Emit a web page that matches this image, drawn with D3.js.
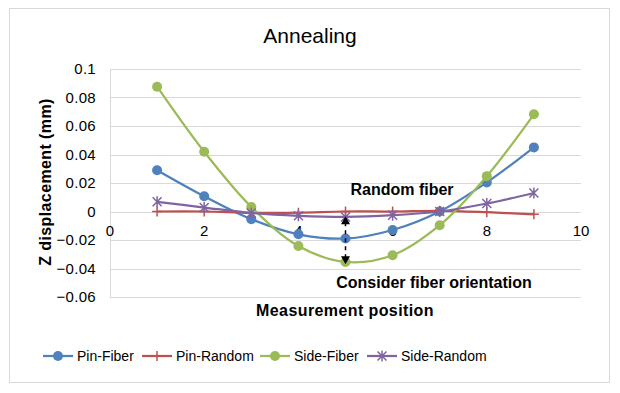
<!DOCTYPE html>
<html>
<head>
<meta charset="utf-8">
<script src="https://d3js.org/d3.v7.min.js"></script>
<style>
  body { margin: 0; background: #fff; }
  svg text { font-family: "Liberation Sans", Arial, sans-serif; fill: #000; }
</style>
</head>
<body>
<svg></svg>
<script>
  const width = 620;
  const height = 393;

  // data
  const positions = [1, 2, 3, 4, 5, 6, 7, 8, 9];
  const pinFiber = [0.029, 0.0107, -0.0054, -0.016, -0.019, -0.013, 0.0, 0.0204, 0.045];
  const pinRandom = [0.0, 0.0, -0.001, -0.0008, 0.0, 0.0, 0.0005, -0.0005, -0.002];
  const sideFiber = [0.0876, 0.0419, 0.0032, -0.0242, -0.0354, -0.0307, -0.0096, 0.0248, 0.0682];
  const sideRandom = [0.0068, 0.0028, -0.001, -0.003, -0.0038, -0.0026, 0.0, 0.0056, 0.013];
  const seriesNames = ['Pin-Fiber', 'Pin-Random', 'Side-Fiber', 'Side-Random'];
  const xTicks = [0, 2, 4, 6, 8, 10];
  const yTicks = [-0.06, -0.04, -0.02, 0, 0.02, 0.04, 0.06, 0.08, 0.1];

  const series = [
    { name: seriesNames[0], values: pinFiber, color: '#4f81bd', marker: 'circle' },
    { name: seriesNames[1], values: pinRandom, color: '#c0504d', marker: 'plus' },
    { name: seriesNames[2], values: sideFiber, color: '#9bbb59', marker: 'circle' },
    { name: seriesNames[3], values: sideRandom, color: '#8064a2', marker: 'star' }
  ];

  const svg = d3.select('svg').attr('width', width).attr('height', height);

  // chart frame
  svg.append('rect')
    .attr('x', 9.5).attr('y', 8.5).attr('width', 600).attr('height', 374)
    .attr('fill', '#fff').attr('stroke', '#d9d9d9');

  const x = d3.scaleLinear().domain([0, 10]).range([110, 581]);
  const y = d3.scaleLinear().domain([-0.06, 0.1]).range([297, 69]);

  // gridlines
  svg.append('g').selectAll('line')
    .data(yTicks)
    .enter().append('line')
    .attr('x1', x(0)).attr('x2', x(10))
    .attr('y1', d => Math.round(y(d)) + 0.5).attr('y2', d => Math.round(y(d)) + 0.5)
    .attr('stroke', '#d9d9d9').attr('stroke-width', 1);

  svg.append('line')
    .attr('x1', x(0) + 0.5).attr('x2', x(0) + 0.5)
    .attr('y1', y(0.1)).attr('y2', y(-0.06))
    .attr('stroke', '#d9d9d9');

  // y tick labels
  svg.append('g').selectAll('text')
    .data(yTicks)
    .enter().append('text')
    .attr('x', 96).attr('y', d => y(d) + 5)
    .attr('text-anchor', 'end')
    .style('font-size', '15px')
    .style('letter-spacing', '0.3px')
    .text(d => d === 0 ? '0' : d3.format('')(+d.toFixed(2)));

  // x tick labels sit on the zero line
  svg.append('g').selectAll('text')
    .data(xTicks)
    .enter().append('text')
    .attr('x', d => x(d)).attr('y', y(0) + 24)
    .attr('text-anchor', 'middle')
    .style('font-size', '15px')
    .text(d => d);

  // title and axis titles
  svg.append('text')
    .attr('x', 310).attr('y', 43)
    .attr('text-anchor', 'middle')
    .style('font-size', '21px')
    .text('Annealing');

  svg.append('text')
    .attr('x', 345).attr('y', 316)
    .attr('text-anchor', 'middle')
    .style('font-size', '16px').style('font-weight', 'bold')
    .style('letter-spacing', '0.4px')
    .text('Measurement position');

  svg.append('text')
    .attr('transform', 'translate(51,182) rotate(-90)')
    .attr('text-anchor', 'middle')
    .style('font-size', '16px').style('font-weight', 'bold')
    .style('letter-spacing', '0.4px')
    .text('Z displacement (mm)');

  // series lines (smoothed like the original)
  const line = d3.line()
    .x((d, i) => x(positions[i]))
    .y(d => y(d))
    .curve(d3.curveCatmullRom.alpha(0.5));

  function drawMarker(g, type, color, cx, cy) {
    if (type === 'circle') {
      g.append('circle').attr('cx', cx).attr('cy', cy).attr('r', 5).attr('fill', color);
    } else if (type === 'plus') {
      g.append('path')
        .attr('d', `M${cx - 5},${cy}H${cx + 5}M${cx},${cy - 5}V${cy + 5}`)
        .attr('stroke', color).attr('stroke-width', 1.5).attr('fill', 'none');
    } else {
      g.append('path')
        .attr('d', `M${cx - 4.5},${cy - 4.5}L${cx + 4.5},${cy + 4.5}M${cx - 4.5},${cy + 4.5}L${cx + 4.5},${cy - 4.5}M${cx},${cy - 5.5}V${cy + 5.5}`)
        .attr('stroke', color).attr('stroke-width', 1.5).attr('fill', 'none');
    }
  }

  series.forEach(s => {
    const g = svg.append('g');
    g.append('path')
      .datum(s.values)
      .attr('d', line)
      .attr('fill', 'none')
      .attr('stroke', s.color)
      .attr('stroke-width', 2.25);
    s.values.forEach((v, i) => drawMarker(g, s.marker, s.color, x(positions[i]), y(v)));
  });

  // annotation: arrows at position 5
  const arrowX = 5;
  const arrowTop = -0.0033;
  const arrowBottom = -0.037;
  const ax = x(arrowX);
  const at = y(arrowTop);
  const ab = y(arrowBottom);
  svg.append('line')
    .attr('x1', ax).attr('x2', ax)
    .attr('y1', at + 6).attr('y2', ab - 6)
    .attr('stroke', '#000').attr('stroke-width', 1.5)
    .attr('stroke-dasharray', '4,4');
  svg.append('path')
    .attr('d', `M${ax},${at}L${ax - 4.5},${at + 8}L${ax + 4.5},${at + 8}Z`)
    .attr('fill', '#000');
  svg.append('path')
    .attr('d', `M${ax},${ab}L${ax - 4.5},${ab - 8}L${ax + 4.5},${ab - 8}Z`)
    .attr('fill', '#000');

  svg.append('text')
    .attr('x', x(6.2)).attr('y', y(0.0115))
    .attr('text-anchor', 'middle')
    .style('font-size', '16px').style('font-weight', 'bold')
    .text('Random fiber');

  svg.append('text')
    .attr('x', x(6.88)).attr('y', y(-0.054))
    .attr('text-anchor', 'middle')
    .style('font-size', '16px').style('font-weight', 'bold')
    .text('Consider fiber orientation');

  // legend
  const legendX = [43, 142, 260, 367];
  const legendY = 356;
  series.forEach((s, i) => {
    const g = svg.append('g');
    const lx = legendX[i];
    g.append('line')
      .attr('x1', lx).attr('x2', lx + 30)
      .attr('y1', legendY).attr('y2', legendY)
      .attr('stroke', s.color).attr('stroke-width', 2.25);
    drawMarker(g, s.marker, s.color, lx + 15, legendY);
    g.append('text')
      .attr('x', lx + 34).attr('y', legendY + 5)
      .style('font-size', '14px')
      .text(s.name);
  });
</script>
</body>
</html>
